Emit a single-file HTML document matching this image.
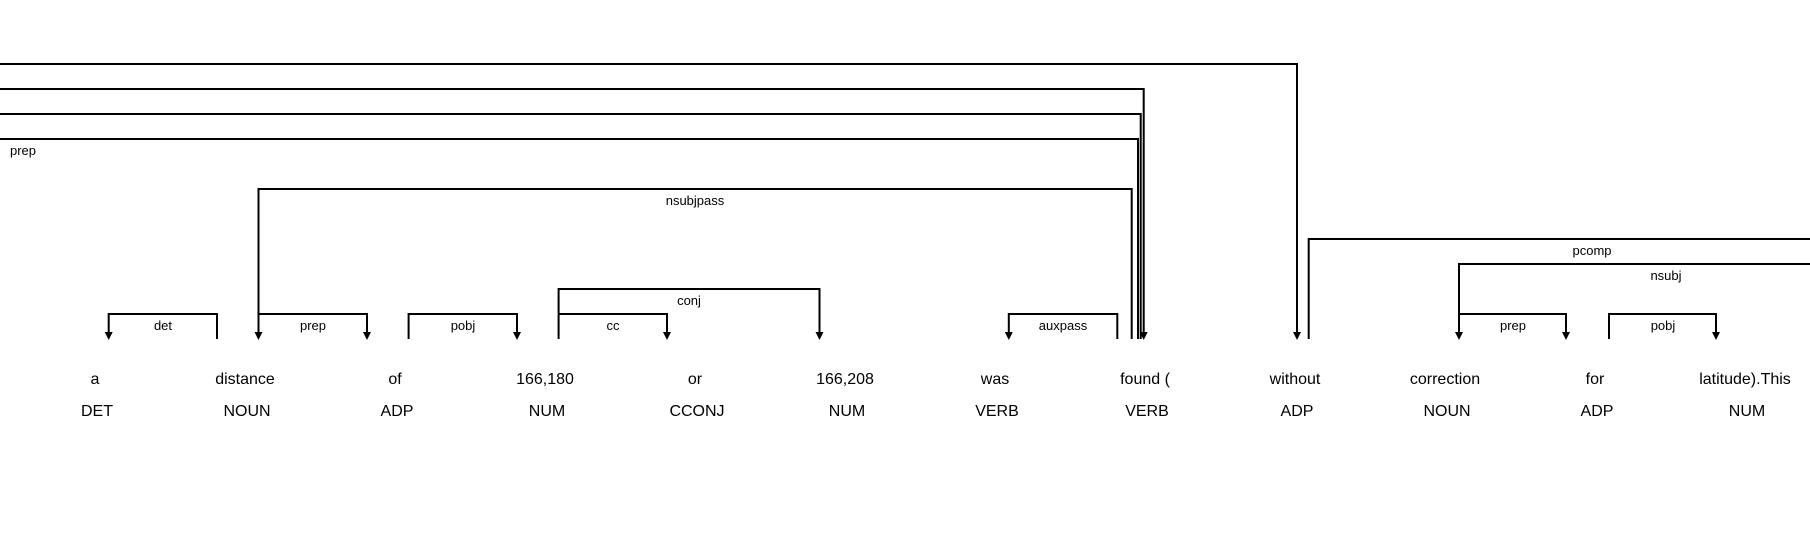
<!DOCTYPE html>
<html><head><meta charset="utf-8"><style>
html,body{margin:0;padding:0;background:#fff;}
svg{display:block;}
text{font-family:"Liberation Sans",Arial,sans-serif;fill:#000;}
.w{font-size:16px;}
.l{font-size:13px;}
path{fill:none;stroke:#000;stroke-width:2;}
polygon{fill:#000;}
</style></head><body>
<svg width="1810" height="557" viewBox="0 0 1810 557" xmlns="http://www.w3.org/2000/svg">
<g class="w" text-anchor="middle">
<text x="95" y="384">a</text><text x="97" y="416">DET</text>
<text x="245" y="384">distance</text><text x="247" y="416">NOUN</text>
<text x="395" y="384">of</text><text x="397" y="416">ADP</text>
<text x="545" y="384">166,180</text><text x="547" y="416">NUM</text>
<text x="695" y="384">or</text><text x="697" y="416">CCONJ</text>
<text x="845" y="384">166,208</text><text x="847" y="416">NUM</text>
<text x="995" y="384">was</text><text x="997" y="416">VERB</text>
<text x="1145" y="384">found (</text><text x="1147" y="416">VERB</text>
<text x="1295" y="384">without</text><text x="1297" y="416">ADP</text>
<text x="1445" y="384">correction</text><text x="1447" y="416">NOUN</text>
<text x="1595" y="384">for</text><text x="1597" y="416">ADP</text>
<text x="1745" y="384">latitude).This</text><text x="1747" y="416">NUM</text>
</g>
<path d="M0 64 H1297 V333"/>
<path d="M0 89 H1143.7 V333"/>
<path d="M0 114 H1140.7 V339"/>
<path d="M0 139 H1138 V339"/>
<path d="M258.5 333 V189 H1131.7 V339"/>
<path d="M108.7 333 V314 H217 V339"/>
<path d="M258.5 314 H367 V333"/>
<path d="M408.6 339 V314 H517 V333"/>
<path d="M558.6 339 V289 H819.5 V333"/>
<path d="M558.6 314 H667 V333"/>
<path d="M1008.8 333 V314 H1117.3 V339"/>
<path d="M1308.7 339 V239 H1812"/>
<path d="M1459 333 V264 H1812"/>
<path d="M1459 314 H1566 V333"/>
<path d="M1609 339 V314 H1716 V333"/>
<g>
<polygon points="104.7,332 112.7,332 108.7,340"/>
<polygon points="254.5,332 262.5,332 258.5,340"/>
<polygon points="363,332 371,332 367,340"/>
<polygon points="513,332 521,332 517,340"/>
<polygon points="663,332 671,332 667,340"/>
<polygon points="815.5,332 823.5,332 819.5,340"/>
<polygon points="1004.8,332 1012.8,332 1008.8,340"/>
<polygon points="1139.7,332 1147.7,332 1143.7,340"/>
<polygon points="1293,332 1301,332 1297,340"/>
<polygon points="1455,332 1463,332 1459,340"/>
<polygon points="1562,332 1570,332 1566,340"/>
<polygon points="1712,332 1720,332 1716,340"/>
</g>
<g class="l" text-anchor="middle">
<text x="23" y="155">prep</text>
<text x="695" y="205">nsubjpass</text>
<text x="1592" y="255">pcomp</text>
<text x="1666" y="280">nsubj</text>
<text x="689" y="305">conj</text>
<text x="163" y="330">det</text>
<text x="313" y="330">prep</text>
<text x="463" y="330">pobj</text>
<text x="613" y="330">cc</text>
<text x="1063" y="330">auxpass</text>
<text x="1513" y="330">prep</text>
<text x="1663" y="330">pobj</text>
</g>
</svg>
</body></html>
